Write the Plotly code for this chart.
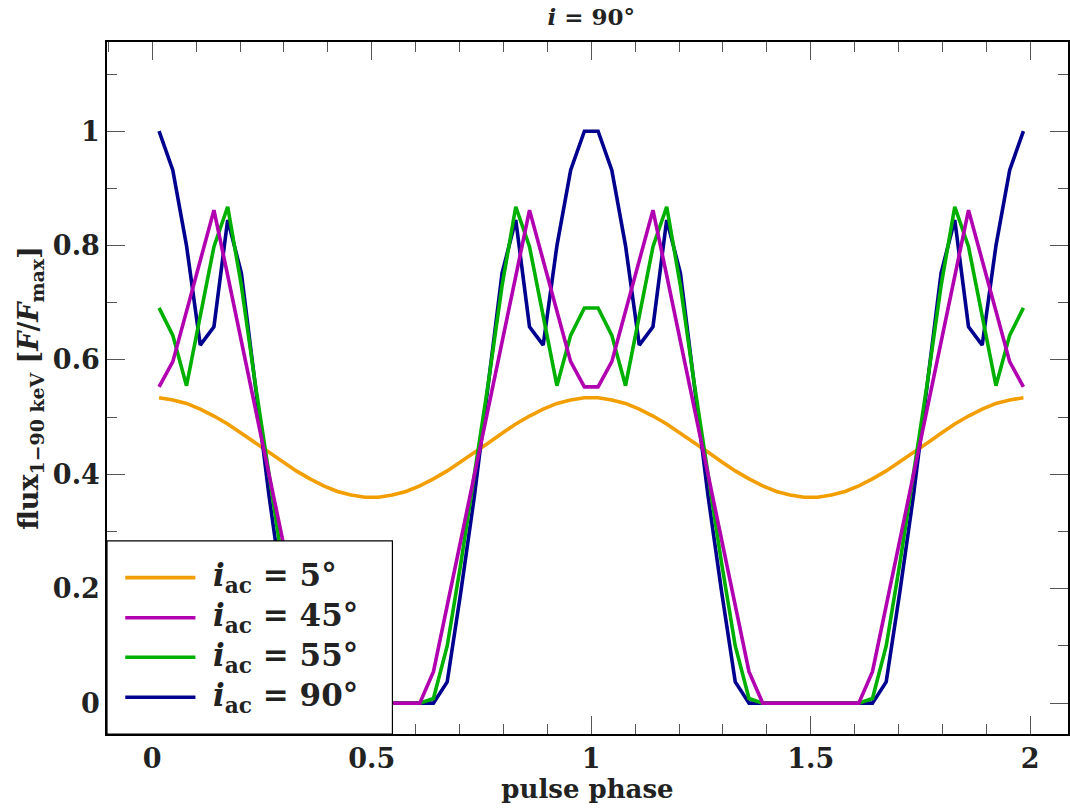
import plotly.graph_objects as go

# pulse phase bin centres (two cycles, 32 bins per cycle)
phase = [0.0156, 0.0469, 0.0781, 0.1094, 0.1406, 0.1719, 0.2031, 0.2344,
         0.2656, 0.2969, 0.3281, 0.3594, 0.3906, 0.4219, 0.4531, 0.4844,
         0.5156, 0.5469, 0.5781, 0.6094, 0.6406, 0.6719, 0.7031, 0.7344,
         0.7656, 0.7969, 0.8281, 0.8594, 0.8906, 0.9219, 0.9531, 0.9844,
         1.0156, 1.0469, 1.0781, 1.1094, 1.1406, 1.1719, 1.2031, 1.2344,
         1.2656, 1.2969, 1.3281, 1.3594, 1.3906, 1.4219, 1.4531, 1.4844,
         1.5156, 1.5469, 1.5781, 1.6094, 1.6406, 1.6719, 1.7031, 1.7344,
         1.7656, 1.7969, 1.8281, 1.8594, 1.8906, 1.9219, 1.9531, 1.9844]

flux_5 = [0.534, 0.530, 0.524, 0.514, 0.502, 0.488, 0.472, 0.455,
          0.439, 0.422, 0.406, 0.392, 0.380, 0.370, 0.364, 0.360,
          0.360, 0.364, 0.370, 0.380, 0.392, 0.406, 0.422, 0.439,
          0.455, 0.472, 0.488, 0.502, 0.514, 0.524, 0.530, 0.534,
          0.534, 0.530, 0.524, 0.514, 0.502, 0.488, 0.472, 0.455,
          0.439, 0.422, 0.406, 0.392, 0.380, 0.370, 0.364, 0.360,
          0.360, 0.364, 0.370, 0.380, 0.392, 0.406, 0.422, 0.439,
          0.455, 0.472, 0.488, 0.502, 0.514, 0.524, 0.530, 0.534]

flux_45 = [0.553, 0.597, 0.685, 0.774, 0.862, 0.748, 0.633, 0.515,
           0.400, 0.285, 0.170, 0.055, 0.0, 0.0, 0.0, 0.0,
           0.0, 0.0, 0.0, 0.0, 0.055, 0.170, 0.285, 0.400,
           0.515, 0.633, 0.748, 0.862, 0.774, 0.685, 0.597, 0.553,
           0.553, 0.597, 0.685, 0.774, 0.862, 0.748, 0.633, 0.515,
           0.400, 0.285, 0.170, 0.055, 0.0, 0.0, 0.0, 0.0,
           0.0, 0.0, 0.0, 0.0, 0.055, 0.170, 0.285, 0.400,
           0.515, 0.633, 0.748, 0.862, 0.774, 0.685, 0.597, 0.553]

flux_55 = [0.691, 0.643, 0.555, 0.675, 0.798, 0.868, 0.730, 0.560,
           0.400, 0.245, 0.100, 0.008, 0.0, 0.0, 0.0, 0.0,
           0.0, 0.0, 0.0, 0.0, 0.008, 0.100, 0.245, 0.400,
           0.560, 0.730, 0.868, 0.798, 0.675, 0.555, 0.643, 0.691,
           0.691, 0.643, 0.555, 0.675, 0.798, 0.868, 0.730, 0.560,
           0.400, 0.245, 0.100, 0.008, 0.0, 0.0, 0.0, 0.0,
           0.0, 0.0, 0.0, 0.0, 0.008, 0.100, 0.245, 0.400,
           0.560, 0.730, 0.868, 0.798, 0.675, 0.555, 0.643, 0.691]

flux_90 = [1.000, 0.932, 0.800, 0.626, 0.658, 0.845, 0.752, 0.560,
           0.365, 0.195, 0.037, 0.0, 0.0, 0.0, 0.0, 0.0,
           0.0, 0.0, 0.0, 0.0, 0.0, 0.037, 0.195, 0.365,
           0.560, 0.752, 0.845, 0.658, 0.626, 0.800, 0.932, 1.000,
           1.000, 0.932, 0.800, 0.626, 0.658, 0.845, 0.752, 0.560,
           0.365, 0.195, 0.037, 0.0, 0.0, 0.0, 0.0, 0.0,
           0.0, 0.0, 0.0, 0.0, 0.0, 0.037, 0.195, 0.365,
           0.560, 0.752, 0.845, 0.658, 0.626, 0.800, 0.932, 1.000]

labels = ["5°", "45°", "55°", "90°"]
colors = ["#f29e00", "#b000b0", "#00b000", "#00008f"]

FONT = "DejaVu Serif"
TXT = "#222"

fig = go.Figure()
series = [flux_5, flux_45, flux_55, flux_90]
names = ["<b><i>i</i><sub>ac</sub> = " + lab + "</b>" for lab in labels]
draw_order = [0, 3, 2, 1]  # orange bottom, magenta on top
for idx in draw_order:
    fig.add_trace(go.Scatter(
        x=phase, y=series[idx], mode="lines",
        line=dict(color=colors[idx], width=3.6),
        name=names[idx], showlegend=False,
    ))

axis_common = dict(
    showline=True, linecolor="black", linewidth=1.5, mirror="allticks",
    ticks="inside", ticklen=18, tickwidth=1.3, tickcolor="#555",
    showgrid=False, zeroline=False,
    tickfont=dict(family=FONT, size=27, color=TXT, weight="bold"),
)

# legend box drawn in paper coordinates (plot area fractions)
box_x1, box_y1 = 0.297, 0.279
line_x0, line_x1, text_x = 0.019, 0.092, 0.108
row_y = [0.226, 0.168, 0.111, 0.053]

shapes = [dict(type="rect", xref="paper", yref="paper", x0=0, x1=box_x1,
               y0=0, y1=box_y1, fillcolor="white",
               line=dict(color="black", width=1.2), layer="above")]
annotations = []
for i in range(4):
    shapes.append(dict(type="line", xref="paper", yref="paper",
                       x0=line_x0, x1=line_x1, y0=row_y[i], y1=row_y[i],
                       line=dict(color=colors[i], width=3.6), layer="above"))
    annotations.append(dict(xref="paper", yref="paper", x=text_x, y=row_y[i],
                            text=names[i], showarrow=False, xanchor="left",
                            yanchor="middle",
                            font=dict(family=FONT, size=31, color=TXT)))

fig.update_layout(
    width=1070, height=809,
    margin=dict(l=107, r=0, t=42, b=75),
    paper_bgcolor="white", plot_bgcolor="white",
    title=dict(text="<b><i>i</i> = 90°</b>", x=0.504, xref="paper",
               y=1 - 17 / 809, yref="container", yanchor="middle", xanchor="center",
               font=dict(family=FONT, size=23, color=TXT)),
    xaxis=dict(range=[-0.103, 2.086], tickvals=[0, 0.5, 1, 1.5, 2],
               minor=dict(ticks="inside", ticklen=10, tickwidth=1.3,
                          tickcolor="#555", dtick=0.1, tick0=0),
               title=dict(text="<b>pulse phase</b>", standoff=4,
                          font=dict(family=FONT, size=26, color=TXT)),
               **axis_common),
    yaxis=dict(range=[-0.054, 1.156], tickvals=[0, 0.2, 0.4, 0.6, 0.8, 1],
               minor=dict(ticks="inside", ticklen=10, tickwidth=1.3,
                          tickcolor="#555", dtick=0.1, tick0=0),
               title=dict(text="<b>flux<sub>1−90 keV</sub> [<i>F</i>/<i>F</i><sub>max</sub>]</b>",
                          standoff=6,
                          font=dict(family=FONT, size=27, color=TXT)),
               **axis_common),
    shapes=shapes,
    annotations=annotations,
    showlegend=False,
)

fig.write_html("out.html")
